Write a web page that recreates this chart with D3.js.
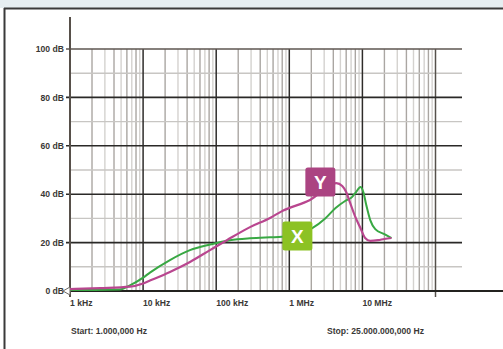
<!DOCTYPE html>
<html><head><meta charset="utf-8">
<script src="https://cdn.jsdelivr.net/npm/d3@7"></script>
<style>html,body{margin:0;padding:0;background:#fff;}svg{display:block;}</style>
</head><body>
<svg id="chart" width="503" height="349"></svg>
<script>
// ---- data ----
const xTickValues = [1e3, 1e4, 1e5, 1e6, 1e7];
const xTickLabels = ["1 kHz", "10 kHz", "100 kHz", "1 MHz", "10 MHz"];
const yTickValues = [0, 20, 40, 60, 80, 100];
const yTickLabels = ["0 dB", "20 dB", "40 dB", "60 dB", "80 dB", "100 dB"];
const yMinorValues = [10, 30, 50, 70, 90];
const startText = "Start: 1.000,000 Hz";
const stopText = "Stop: 25.000.000,000 Hz";

const seriesX_freq = [1e3, 2.2e3, 4.8e3, 6.6e3, 1e4, 1.24e4, 2.33e4, 4.38e4, 8.23e4, 1.54e5, 2.9e5, 5.45e5, 7.95e5, 2.06e6, 3.1e6, 4.3e6, 5.8e6, 7.2e6, 8.2e6, 9.4e6, 1.03e7, 1.13e7, 1.28e7, 1.5e7, 2e7, 2.5e7];
const seriesX_db   = [0.4, 0.4, 0.6, 2.3, 5.5, 7.6, 12.8, 16.9, 19.2, 21, 21.8, 22.2, 22.4, 26, 30, 34.3, 37.2, 38.8, 40.9, 43, 40.9, 35.5, 29.3, 25.6, 23.5, 21.9];

const seriesY_freq = [1e3, 2.6e3, 6.6e3, 1e4, 1.24e4, 2.33e4, 4.38e4, 8.23e4, 1.4e5, 2.9e5, 5.45e5, 7.95e5, 1.92e6, 4.4e6, 5.3e6, 6e6, 6.8e6, 8e6, 9.4e6, 1.09e7, 1.28e7, 1.64e7, 2e7, 2.5e7];
const seriesY_db   = [0.8, 1.2, 1.8, 3.1, 4.3, 7.9, 12, 16.9, 21, 26.4, 30.2, 33, 37.6, 44.6, 43.4, 40.9, 36.4, 30.6, 26, 21.9, 20.7, 21, 21.5, 21.9];

const labelNames = ["Y", "X"];
const labelFreq  = [2.66e6, 1.29e6];
const labelDb    = [45, 22.7];
const labelColors = ["#ab4482", "#8cc224"];
const lineColors = ["#b9468f", "#38a843"];

// ---- drawing ----
const svg = d3.select("#chart");
const x = d3.scaleLog().domain([1e3, 1e8]).range([70, 435.5]);
const y = d3.scaleLinear().domain([0, 100]).range([291, 49]);
const gridRight = 462;

// frame
svg.append("rect").attr("x", 0).attr("y", 0).attr("width", 503).attr("height", 8).attr("fill", "#e6eef1");
svg.append("line").attr("x1", 4).attr("x2", 503).attr("y1", 8.5).attr("y2", 8.5).attr("stroke", "#3a3a3a").attr("stroke-width", 2);
svg.append("line").attr("x1", 4.5).attr("x2", 4.5).attr("y1", 8).attr("y2", 349).attr("stroke", "#3a3a3a").attr("stroke-width", 2);

const grid = svg.append("g");
// minor vertical lines
const minorV = [];
for (let dec = 1e3; dec < 1e8; dec *= 10) for (let m = 2; m <= 9; m++) minorV.push(dec * m);
grid.selectAll("line.mv").data(minorV).join("line")
  .attr("x1", d => x(d)).attr("x2", d => x(d))
  .attr("y1", y(100)).attr("y2", y(0))
  .attr("stroke", (d, i) => (i % 2 === 0 ? "#aaa6a2" : "#d4d2cf"))
  .attr("stroke-width", 1.4);
// minor horizontal
grid.selectAll("line.mh").data(yMinorValues).join("line")
  .attr("x1", x(1e3)).attr("x2", gridRight)
  .attr("y1", d => y(d)).attr("y2", d => y(d))
  .attr("stroke", "#c8c6c3").attr("stroke-width", 1.4);
// major vertical
grid.selectAll("line.Mv").data(xTickValues.concat([1e8])).join("line")
  .attr("x1", d => x(d)).attr("x2", d => x(d))
  .attr("y1", y(100)).attr("y2", d => d === 1e8 ? y(0) + 6 : y(0))
  .attr("stroke", d => d === 1e8 ? "#55504b" : "#2e2c2a").attr("stroke-width", 1.5);
// major horizontal
grid.selectAll("line.Mh").data(yTickValues.filter(d => d > 0)).join("line")
  .attr("x1", x(1e3) - 4).attr("x2", gridRight)
  .attr("y1", d => y(d)).attr("y2", d => y(d))
  .attr("stroke", d => d === 100 ? "#5e5650" : "#2a2927").attr("stroke-width", 1.6);
// x axis line
svg.append("line").attr("x1", x(1e3)).attr("x2", 503).attr("y1", y(0)).attr("y2", y(0))
  .attr("stroke", "#23221f").attr("stroke-width", 2);
// y axis line
svg.append("line").attr("x1", x(1e3)).attr("x2", x(1e3)).attr("y1", 17).attr("y2", y(0) + 6)
  .attr("stroke", "#57504a").attr("stroke-width", 2);

// labels
const font = "'Liberation Sans', Arial, sans-serif";
svg.selectAll("text.yl").data(yTickValues).join("text")
  .attr("x", 64).attr("y", d => y(d) + 3.2)
  .attr("text-anchor", "end").attr("font-family", font).attr("font-weight", "bold")
  .attr("font-size", 8.6).attr("fill", "#3a3836")
  .text((d, i) => yTickLabels[i]);
svg.selectAll("text.xl").data(xTickValues).join("text")
  .attr("x", d => x(d)).attr("y", 306)
  .attr("font-family", font).attr("font-weight", "bold")
  .attr("font-size", 8.6).attr("fill", "#3a3836")
  .text((d, i) => xTickLabels[i]);
svg.append("text").attr("x", 71).attr("y", 334).attr("font-family", font).attr("font-weight", "bold")
  .attr("font-size", 8.6).attr("fill", "#3a3836").text(startText);
svg.append("text").attr("x", 327).attr("y", 334).attr("font-family", font).attr("font-weight", "bold")
  .attr("font-size", 8.6).attr("fill", "#3a3836").text(stopText);

// zero marker
svg.append("path")
  .attr("d", `M${x(1e3) - 7},${y(0)} L${x(1e3)},${y(0) - 4} L${x(1e3)},${y(0) + 4} Z`)
  .attr("fill", "#fff").attr("stroke", "#6b6661").attr("stroke-width", 1);

// curves
const line = d3.line().x(d => x(d[0])).y(d => y(d[1])).curve(d3.curveMonotoneX);
const seriesList = [
  d3.zip(seriesX_freq, seriesX_db),
  d3.zip(seriesY_freq, seriesY_db)
];
svg.append("path").datum(seriesList[0]).attr("d", line).attr("fill", "none")
  .attr("stroke", lineColors[1]).attr("stroke-width", 2).attr("stroke-linejoin", "round");
svg.append("path").datum(seriesList[1]).attr("d", line).attr("fill", "none")
  .attr("stroke", lineColors[0]).attr("stroke-width", 2.2).attr("stroke-linejoin", "round");

// label boxes
const lab = svg.selectAll("g.lab").data(labelNames).join("g")
  .attr("transform", (d, i) => `translate(${x(labelFreq[i])},${y(labelDb[i])})`);
lab.append("rect").attr("x", -15).attr("y", -14.5).attr("width", 30).attr("height", 29).attr("rx", 2.5)
  .attr("fill", (d, i) => labelColors[i]);
lab.append("text").attr("x", 0).attr("y", 7).attr("text-anchor", "middle")
  .attr("font-family", font).attr("font-weight", "bold").attr("font-size", 19).attr("fill", "#fff")
  .text(d => d);
</script>
</body></html>
